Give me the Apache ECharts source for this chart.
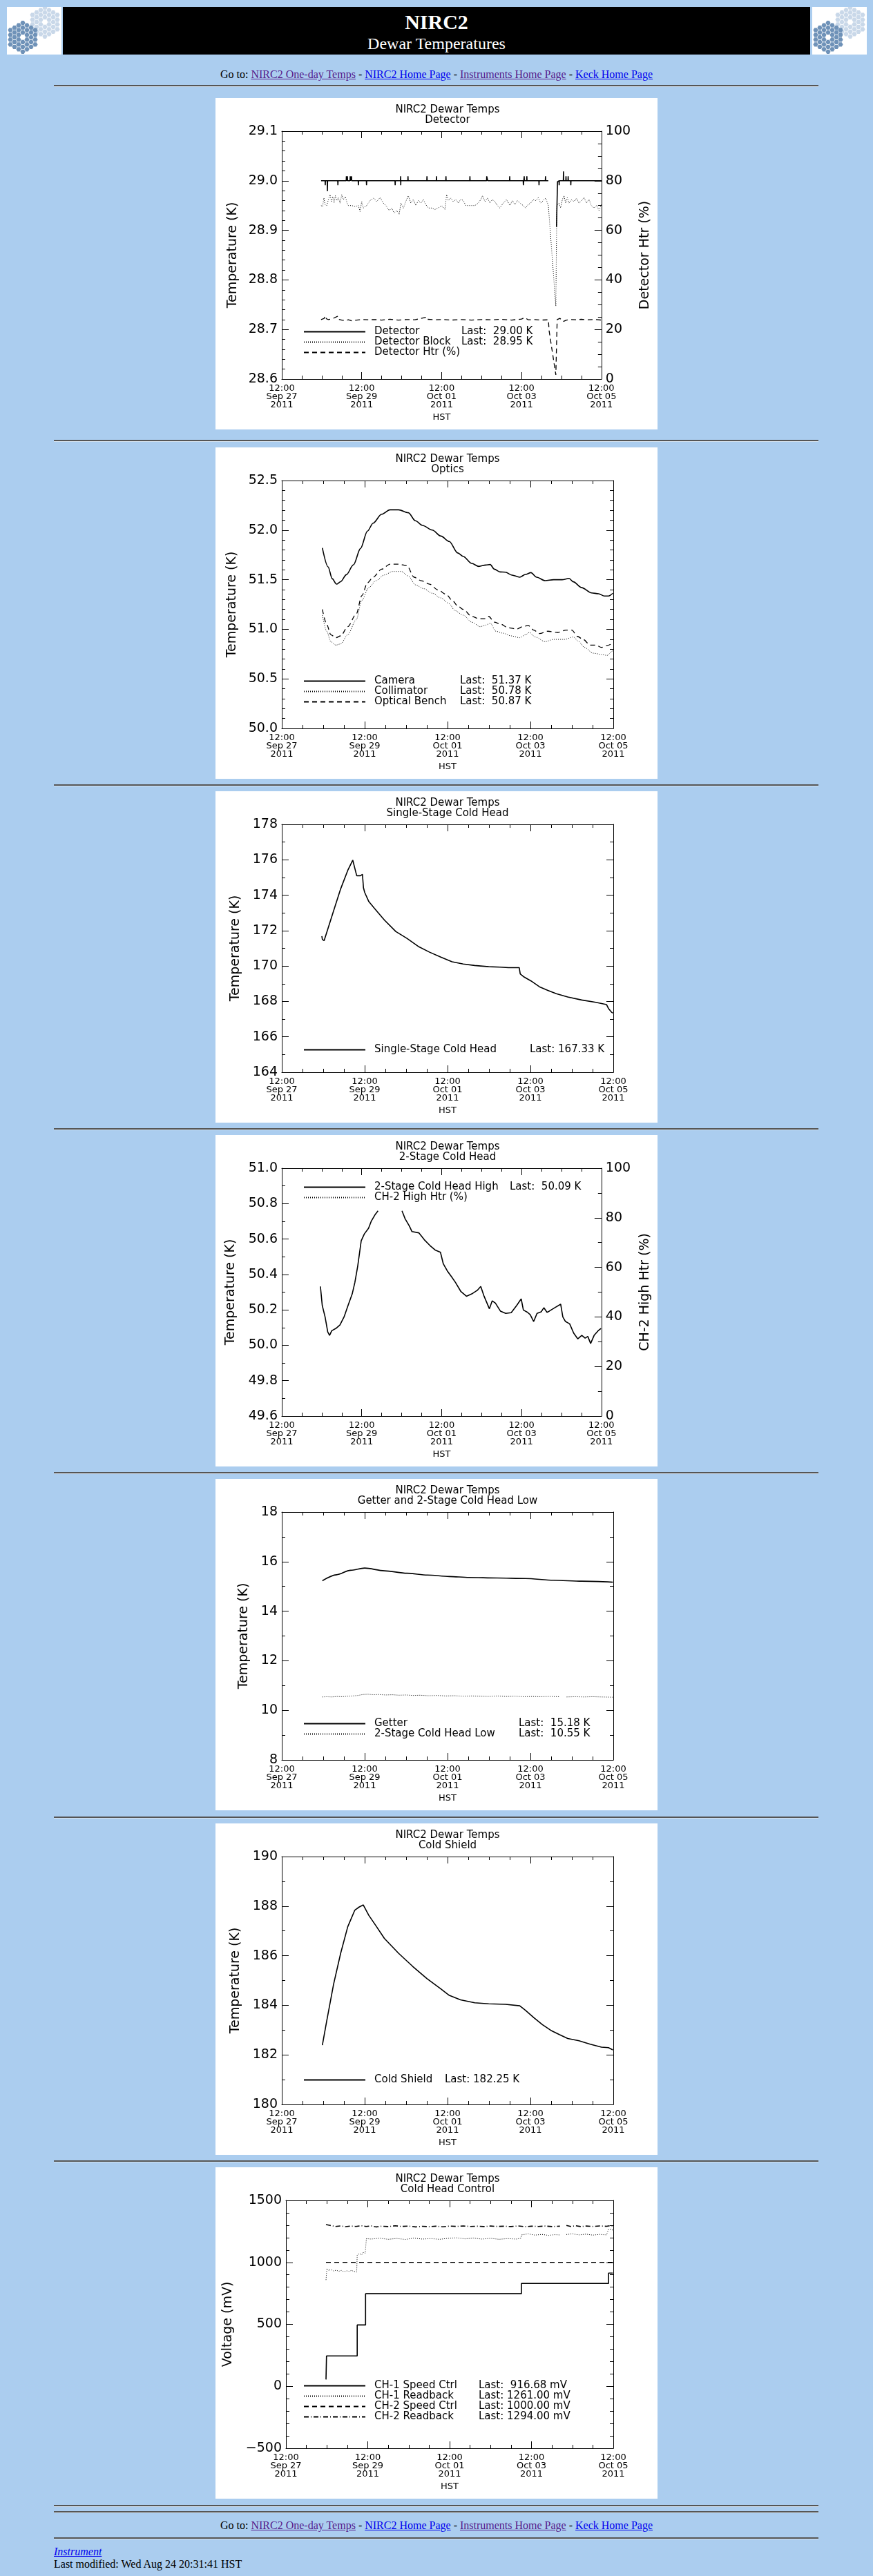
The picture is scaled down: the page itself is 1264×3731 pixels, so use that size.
<!DOCTYPE html>
<html>
<head>
<meta charset="utf-8">
<title>NIRC2 Dewar Temperatures</title>
<script src="https://cdn.jsdelivr.net/npm/echarts@6/dist/echarts.min.js"></script>
<style>
  body { margin: 0; background: #abcdef; font-family: "Liberation Serif", "Times New Roman", serif; font-size: 16px; color: #000; }
  #page { position: relative; width: 1264px; height: 3731px; overflow: hidden; }
  .logo { position: absolute; top: 10px; width: 79px; height: 69px; background: #fff; }
  .bar { position: absolute; left: 91px; top: 10px; width: 1082px; height: 69px; background: #000; color: #fff; text-align: center; }
  .bar .t1 { position: absolute; left: 0; width: 100%; top: 5px; font-size: 30px; font-weight: bold; line-height: 34px; }
  .bar .t2 { position: absolute; left: 0; width: 100%; top: 39px; font-size: 24px; line-height: 28px; }
  .rule { position: absolute; left: 78px; width: 1107px; height: 0; border-top: 2px solid #555; border-bottom: 1px solid #d6e4f2; }
  .goto { position: absolute; left: 0; width: 1264px; text-align: center; line-height: 18px; }
  .v { color: #551a8b; text-decoration: underline; }
  .u { color: #0000ee; text-decoration: underline; }
  .plot { position: absolute; left: 312px; width: 640px; height: 480px; background: #fff; }
  .foot { position: absolute; left: 78px; line-height: 18px; }
</style>
</head>
<body>
<div id="page">
  <div class="logo" id="logoL" style="left:10px"></div>
  <div class="bar"><div class="t1">NIRC2</div><div class="t2">Dewar Temperatures</div></div>
  <div class="logo" id="logoR" style="left:1176px"></div>

  <div class="goto" style="top:99px">Go to: <span class="v">NIRC2 One-day Temps</span> - <span class="u">NIRC2 Home Page</span> - <span class="v">Instruments Home Page</span> - <span class="u">Keck Home Page</span></div>
  <div class="rule" style="top:123px"></div>

  <div class="plot" id="c0" style="top:142px"></div>
  <div class="rule" style="top:637px"></div>
  <div class="plot" id="c1" style="top:648px"></div>
  <div class="rule" style="top:1136px"></div>
  <div class="plot" id="c2" style="top:1146px"></div>
  <div class="rule" style="top:1634px"></div>
  <div class="plot" id="c3" style="top:1644px"></div>
  <div class="rule" style="top:2132px"></div>
  <div class="plot" id="c4" style="top:2142px"></div>
  <div class="rule" style="top:2631px"></div>
  <div class="plot" id="c5" style="top:2641px"></div>
  <div class="rule" style="top:3129px"></div>
  <div class="plot" id="c6" style="top:3139px"></div>
  <div class="rule" style="top:3628px"></div>
  <div class="rule" style="top:3637px"></div>

  <div class="goto" style="top:3649px">Go to: <span class="v">NIRC2 One-day Temps</span> - <span class="u">NIRC2 Home Page</span> - <span class="v">Instruments Home Page</span> - <span class="u">Keck Home Page</span></div>
  <div class="rule" style="top:3675px"></div>
  <div class="foot" style="top:3687px"><i class="u">Instrument</i></div>
  <div class="foot" style="top:3705px">Last modified: Wed Aug 24 20:31:41 HST</div>
</div>

<script>
// x values are hours since 12:00 Sep 27 2011 HST (axis runs to 12:00 Oct 05)
const xTickLabels = [
  '12:00\nSep 27\n2011',
  '12:00\nSep 29\n2011',
  '12:00\nOct 01\n2011',
  '12:00\nOct 03\n2011',
  '12:00\nOct 05\n2011'
];

const subtitles = [
  'Detector',
  'Optics',
  'Single-Stage Cold Head',
  '2-Stage Cold Head',
  'Getter and 2-Stage Cold Head Low',
  'Cold Shield',
  'Cold Head Control'
];

// --- Detector ---
const detectorTemp = [
  [23.6,29.0],[26.0,29.0],[26.1,28.991],[26.2,29.0],[27.3,29.0],[27.4,28.979],[27.5,29.0],
  [33.6,29.0],[33.7,28.991],[33.8,29.0],[38.7,29.0],[38.8,29.009],[38.9,29.0],[39.3,29.0],
  [39.4,29.009],[39.5,29.0],[41.0,29.0],[41.1,29.009],[41.2,29.0],[41.8,29.0],[41.9,29.009],
  [42.0,29.0],[45.9,29.0],[46.0,28.991],[46.1,29.0],[50.8,29.0],[50.9,28.991],[51.0,29.0],
  [68.0,29.0],[68.1,28.991],[68.2,29.0],[71.3,29.0],[71.4,29.009],[71.45,28.991],[71.5,29.0],
  [75.7,29.0],[75.8,29.009],[75.9,29.0],[87.1,29.0],[87.2,29.009],[87.3,29.0],[92.8,29.0],
  [92.9,29.009],[93.0,29.0],[98.5,29.0],[98.6,29.009],[98.7,29.0],[112.9,29.0],[113.0,29.009],
  [113.1,29.0],[123.0,29.0],[123.1,29.009],[123.6,29.009],[123.7,29.0],[136.8,29.0],
  [136.9,29.009],[137.0,29.0],[145.0,29.0],[145.1,28.991],[145.6,29.009],[145.7,29.0],
  [147.1,29.0],[147.2,29.009],[147.3,29.0],[154.4,29.0],[154.5,28.991],[154.6,29.0],
  [158.3,29.0],[158.4,29.009],[158.5,29.0],[160.1,29.0],[161.0,null],
  [165.0,28.907],[165.6,28.998],[165.9,29.0],[166.5,29.0],[166.6,28.991],[166.7,29.0],
  [169.1,29.0],[169.2,29.019],[169.3,29.0],[170.6,29.0],[170.7,29.009],[170.8,29.0],
  [171.9,29.0],[172.0,29.009],[172.1,29.0],[173.5,29.0],[173.6,28.991],[173.7,29.0],[192.0,29.0]
];
const detectorBlockTemp = [
  [23.6,28.95],[24.5,28.948],[25.3,28.965],[26.0,28.952],[27.0,28.95],[28.0,28.962],[29.0,28.972],
  [29.8,28.958],[30.6,28.968],[31.4,28.955],[32.2,28.97],[33.0,28.96],[34.0,28.966],[35.0,28.955],
  [36.0,28.972],[37.0,28.962],[38.2,28.968],[39.2,28.955],[40.0,28.95],[42.0,28.95],[44.0,28.948],
  [46.0,28.95],[47.0,28.938],[48.0,28.958],[49.0,28.945],[51.0,28.95],[53.0,28.96],[55.0,28.965],
  [57.0,28.958],[59.0,28.966],[61.0,28.955],[63.0,28.948],[64.5,28.94],[66.0,28.945],[67.5,28.935],
  [69.0,28.94],[70.5,28.932],[71.5,28.955],[73.0,28.945],[74.5,28.958],[76.0,28.97],[77.5,28.955],
  [79.0,28.962],[80.5,28.95],[82.0,28.96],[83.5,28.955],[85.0,28.962],[86.5,28.952],[88.0,28.945],
  [90.0,28.945],[92.0,28.942],[94.0,28.945],[96.0,28.95],[98.0,28.942],[99.0,28.972],[100.0,28.96],
  [101.5,28.965],[103.0,28.958],[104.5,28.962],[106.0,28.955],[107.5,28.963],[109.0,28.96],
  [110.5,28.95],[112.0,28.95],[114.0,28.95],[116.0,28.95],[118.0,28.955],[119.5,28.962],
  [120.5,28.97],[122.0,28.958],[123.5,28.965],[125.0,28.955],[126.5,28.962],[128.0,28.958],
  [129.5,28.95],[131.0,28.945],[133.0,28.955],[135.0,28.962],[137.0,28.95],[138.5,28.96],
  [140.0,28.952],[141.5,28.96],[143.0,28.955],[145.0,28.95],[146.5,28.945],[148.0,28.952],
  [149.5,28.955],[151.0,28.962],[152.5,28.96],[154.0,28.966],[155.5,28.955],[157.0,28.96],
  [158.5,28.965],[160.1,28.95],[164.6,28.747],[165.2,28.95],[166.5,28.955],[167.5,28.945],
  [168.5,28.962],[169.5,28.97],[170.5,28.955],[171.5,28.966],[172.5,28.955],[174.0,28.962],
  [175.5,28.958],[177.0,28.965],[178.5,28.955],[180.0,28.96],[181.5,28.966],[183.0,28.955],
  [184.5,28.962],[186.0,28.95],[187.5,28.945],[189.0,28.95],[190.5,28.94],[192.0,28.952]
];
const detectorHtr = [
  [23.6,24.0],[25.5,24.5],[26.1,25.5],[26.8,24.3],[28,24.0],[30,24.2],[33.5,25.3],[34,24.1],
  [36,23.8],[38,23.6],[40,23.9],[42,23.5],[45,23.8],[48,24.0],[52,23.9],[56,24.0],[60,23.8],
  [65,24.1],[70,23.8],[75,24.0],[80,23.9],[87,25.0],[87.5,24.1],[92,23.9],[97,24.0],[102,23.8],
  [108,24.0],[114,23.8],[120,24.0],[126,23.9],[132,24.1],[138,23.8],[144,24.2],[146,24.8],
  [148,23.9],[152,24.0],[156,23.8],[160.1,23.9],[160.6,19.3],[164.6,1.7],[165.3,1.7],[165.4,24.0],
  [167,24.5],[169,23.2],[171,23.8],[174,24.0],[177,23.9],[180,24.1],[184,23.9],[188,24.0],[192,23.8]
];

// --- Optics ---
const cameraTemp = [
  [23.5,51.82],[26.8,51.63],[29.2,51.51],[31.7,51.455],[34.1,51.48],[37.4,51.55],[41.5,51.65],
  [45.6,51.815],[49.6,51.99],[52.9,52.07],[57.8,52.16],[62.7,52.205],[67.6,52.205],[73.3,52.175],
  [77.4,52.094],[81.5,52.047],[87.2,52.0],[92.1,51.94],[97.0,51.885],[101.9,51.77],[105.1,51.734],
  [110.0,51.664],[114.1,51.634],[118.2,51.648],[120.7,51.653],[123.1,51.606],[126.4,51.578],
  [129.6,51.576],[132.9,51.548],[137.8,51.525],[141.1,51.553],[144.3,51.571],[147.6,51.525],
  [152.5,51.49],[157.4,51.50],[162.3,51.50],[166.4,51.513],[168.8,51.479],[173.7,51.42],
  [179.4,51.367],[183.5,51.358],[186.8,51.335],[189.2,51.335],[191.7,51.363]
];
const collimatorTemp = [
  [23.5,51.142],[26.0,50.98],[28.4,50.875],[31.3,50.84],[34.1,50.852],[38.2,50.945],[43.1,51.096],
  [46.4,51.293],[50.4,51.42],[54.5,51.49],[59.4,51.548],[64.3,51.583],[69.2,51.583],[73.3,51.537],
  [77.4,51.448],[82.3,51.409],[87.2,51.363],[92.1,51.316],[97.0,51.258],[100.2,51.188],
  [105.1,51.142],[110.0,51.072],[114.9,51.026],[118.2,51.042],[120.7,51.061],[124.0,50.98],
  [128.0,50.961],[132.9,50.933],[137.8,50.915],[141.1,50.945],[143.5,50.968],[146.8,50.922],
  [152.5,50.875],[157.4,50.898],[163.9,50.898],[168.8,50.922],[172.1,50.875],[175.3,50.817],
  [180.2,50.759],[185.1,50.747],[188.4,50.736],[190.9,50.77],[191.7,50.794]
];
const benchTemp = [
  [23.5,51.20],[26.0,51.05],[28.4,50.945],[31.3,50.915],[34.1,50.933],[38.2,51.026],[43.1,51.154],
  [46.4,51.34],[49.6,51.467],[52.9,51.525],[57.8,51.606],[62.7,51.657],[67.6,51.657],[72.5,51.641],
  [76.6,51.525],[80.7,51.49],[85.6,51.455],[90.4,51.397],[95.3,51.351],[98.6,51.293],[101.9,51.235],
  [105.1,51.20],[110.0,51.130],[114.1,51.107],[117.4,51.107],[119.8,51.130],[123.1,51.072],
  [126.4,51.054],[131.3,51.014],[136.2,51.003],[139.4,51.026],[142.7,51.038],[146.0,50.991],
  [149.2,50.956],[154.1,50.980],[159.8,50.968],[164.7,50.991],[168.0,50.991],[171.2,50.928],
  [174.5,50.898],[178.6,50.84],[181.9,50.84],[185.1,50.817],[188.4,50.836],[191.7,50.86]
];

// --- Single-Stage Cold Head ---
const singleStageTemp = [
  [23.2,171.69],[23.5,171.50],[24.5,171.43],[26.0,171.89],[30.0,173.12],[34.1,174.36],[38.2,175.40],
  [41.1,175.98],[41.8,176.01],[42.6,175.40],[43.4,175.10],[45.6,175.10],[46.7,175.18],[47.3,174.42],
  [48.0,174.16],[50.4,173.64],[53.7,173.25],[59.4,172.60],[66.0,171.95],[72.5,171.56],[79.0,171.11],
  [85.6,170.78],[92.1,170.50],[98.6,170.24],[105.1,170.11],[111.7,170.03],[119.8,169.96],
  [126.4,169.94],[131.3,169.91],[137.5,169.91],[138.1,169.55],[140.3,169.38],[144.3,169.16],
  [149.2,168.83],[154.1,168.62],[159.0,168.44],[165.6,168.25],[173.7,168.08],[181.9,167.95],
  [188.1,167.82],[189.2,167.60],[190.9,167.40],[191.7,167.34]
];

// --- 2-Stage Cold Head ---
const twoStageHighTemp = [
  [23.2,50.332],[24.3,50.225],[26.0,50.16],[27.6,50.075],[28.7,50.056],[30.0,50.082],[32.5,50.095],
  [34.9,50.114],[37.4,50.16],[39.8,50.225],[42.3,50.29],[43.9,50.355],[45.6,50.447],[47.7,50.59],
  [49.6,50.629],[52.1,50.661],[53.7,50.70],[56.2,50.74],[57.8,50.759],[65.0,null],
  [72.2,50.759],[74.1,50.714],[76.6,50.674],[78.2,50.642],[82.3,50.635],[85.6,50.596],[88.9,50.564],
  [92.1,50.538],[95.3,50.525],[97.0,50.46],[99.4,50.42],[101.9,50.388],[104.3,50.355],[107.6,50.303],
  [110.9,50.277],[114.1,50.29],[117.4,50.31],[119.5,50.332],[121.5,50.277],[124.7,50.206],
  [126.4,50.251],[128.3,50.238],[131.3,50.193],[134.5,50.18],[137.8,50.184],[141.1,50.225],
  [143.8,50.262],[145.1,50.199],[147.6,50.186],[149.2,50.173],[151.3,50.134],[153.3,50.18],
  [155.8,50.189],[157.4,50.212],[159.3,50.186],[160.7,50.193],[163.9,50.212],[167.5,50.232],
  [168.8,50.16],[170.4,50.134],[172.9,50.121],[175.3,50.069],[177.8,50.036],[180.2,50.056],
  [182.2,50.04],[183.8,50.05],[185.5,50.01],[187.6,50.056],[190.0,50.082],[191.7,50.095]
];
const ch2HighHtr = [];

// --- Getter and 2-Stage Cold Head Low ---
const getterTemp = [
  [23.5,15.23],[31.7,15.47],[39.8,15.65],[48.0,15.74],[59.4,15.63],[72.5,15.53],[84.4,15.46],
  [97.0,15.40],[108.4,15.36],[124.7,15.34],[141.1,15.32],[157.4,15.25],[173.7,15.21],[191.7,15.17]
];
const twoStageLowTemp = [
  [23.5,10.54],[26,10.55],[29,10.54],[32,10.56],[35,10.55],[38,10.57],[41,10.58],[44,10.60],
  [47,10.64],[50,10.65],[53,10.63],[56,10.64],[60,10.62],[64,10.63],[68,10.61],[72,10.62],
  [76,10.60],[80,10.61],[85,10.59],[90,10.60],[95,10.58],[100,10.59],[105,10.57],[110,10.58],
  [115,10.57],[120,10.56],[125,10.58],[130,10.56],[135,10.57],[140,10.55],[145,10.56],[150,10.55],
  [155,10.56],[160.5,10.55],[162,null],[165,10.54],[170,10.55],[175,10.54],[180,10.55],[185,10.54],
  [191.7,10.53]
];

// --- Cold Shield ---
const coldShieldTemp = [
  [23.5,182.39],[26.0,183.36],[30.0,184.85],[34.1,186.10],[38.2,187.17],[42.3,187.84],[44.7,187.96],
  [47.2,188.05],[50.4,187.63],[54.5,187.21],[59.4,186.70],[67.6,186.10],[75.8,185.57],[84.0,185.08],
  [92.1,184.66],[97.0,184.40],[103.5,184.22],[111.7,184.10],[119.8,184.06],[129.6,184.04],
  [137.8,183.98],[141.1,183.80],[146.0,183.50],[150.9,183.22],[155.8,182.99],[160.7,182.82],
  [165.6,182.66],[172.1,182.57],[178.6,182.43],[185.1,182.31],[189.2,182.29],[191.7,182.20]
];

// --- Cold Head Control (mV) ---
const ch1SpeedCtrl = [[23.5,55],[23.8,245],[41.8,495],[46.7,747],[138.1,830],[189.2,914],[191.7,917]];
const ch1Readback = [
  [23.5,858],[24.0,948],[25,935],[26.5,942],[28,930],[29.5,938],[31,928],[32.5,935],[34,925],
  [35.5,932],[37,928],[38.5,936],[40,925],[41.5,922],[41.8,1060],[43,1070],[44.5,1062],[45.5,1082],
  [46.5,1075],[47.2,1192],[50,1188],[55,1195],[60,1186],[65,1193],[70,1185],[75,1196],[80,1188],
  [85,1192],[90,1186],[95,1194],[100,1198],[105,1190],[110,1196],[115,1188],[120,1194],[125,1186],
  [130,1192],[135,1188],[137.8,1195],[138.2,1222],[142,1230],[146,1220],[150,1226],[154,1218],
  [158,1224],[160.7,1221],[162,null],[164.5,1225],[168,1230],[172,1222],[176,1228],[180,1220],
  [184,1226],[188,1222],[189.3,1268],[191.7,1261]
];
const ch2SpeedCtrl = [[23.5,1000],[191.7,1000]];
const ch2Readback = [
  [23.5,1305],[26,1298],[29,1290],[32,1294],[35,1288],[38,1293],[41,1290],[44,1296],[47,1290],
  [50,1294],[53,1286],[56,1292],[60,1289],[64,1295],[68,1290],[72,1293],[76,1286],[80,1291],
  [84,1288],[88,1292],[92,1287],[96,1293],[100,1290],[104,1294],[108,1290],[112,1292],[116,1289],
  [120,1293],[124,1290],[128,1292],[132,1289],[136,1294],[140,1288],[144,1292],[148,1290],
  [152,1293],[156,1289],[160.7,1292],[162,null],[164.5,1298],[167,1290],[170,1295],[173,1289],
  [176,1293],[180,1290],[184,1294],[188,1291],[190,1296],[191.7,1294]
];

const FONT = 'DejaVu Sans';
const LINE = {
  solid:   { type: 'solid', width: 1.6 },
  dotted:  { type: [1, 2], width: 1 },
  dashed:  { type: [7, 5], width: 1.3 },
  dashdot: { type: [7, 3, 1, 3], width: 1.6 }
};

function fmt(dec) {
  return v => {
    const s = v.toFixed(dec);
    return s.charAt(0) === '-' ? '\u2212' + s.slice(1) : s;
  };
}

function xAxes() {
  const base = {
    type: 'value', min: 0, max: 192, interval: 48,
    splitLine: { show: false },
    axisLine: { show: true, onZero: false, lineStyle: { color: '#000', width: 1 } },
    axisTick: { show: true, inside: true, length: 10, lineStyle: { color: '#000' } },
    minorTick: { show: true, splitNumber: 4, length: 5, lineStyle: { color: '#000' } }
  };
  return [
    Object.assign({}, base, {
      position: 'bottom',
      axisLabel: {
        formatter: v => xTickLabels[Math.round(v / 48)],
        fontFamily: FONT, fontSize: 13, lineHeight: 12, color: '#000', margin: 8
      },
      name: 'HST', nameLocation: 'middle', nameGap: 47,
      nameTextStyle: { fontFamily: FONT, fontSize: 13, color: '#000' }
    }),
    Object.assign({}, base, { position: 'top', axisLabel: { show: false } })
  ];
}

function yAxis(s, position, name, nameGap) {
  return {
    type: 'value', position: position, min: s.min, max: s.max, interval: s.interval,
    splitLine: { show: false },
    axisLine: { show: true, onZero: false, lineStyle: { color: '#000', width: 1 } },
    axisTick: { show: true, inside: true, length: 10, lineStyle: { color: '#000' } },
    minorTick: { show: true, splitNumber: s.minor, length: 5, lineStyle: { color: '#000' } },
    axisLabel: name ? { formatter: fmt(s.dec), fontFamily: FONT, fontSize: 19, color: '#000', margin: 6 }
                    : { show: false },
    name: name || '', nameLocation: 'middle', nameGap: nameGap || 0, nameRotate: 90,
    nameTextStyle: { fontFamily: FONT, fontSize: 19, lineHeight: 20, color: '#000' }
  };
}

const chartSpecs = [
  { y: { min: 28.6, max: 29.1, interval: 0.1, minor: 5, dec: 1 }, yName: 'Temperature (K)', yGap: 61,
    y2: { min: 0, max: 100, interval: 20, minor: 4, dec: 0 }, y2Name: 'Detector Htr (%)', y2Gap: 47,
    legendTop: 331, nameW: 126,
    series: [
      { name: 'Detector', last: 'Last:  29.00 K', data: detectorTemp, style: 'solid' },
      { name: 'Detector Block', last: 'Last:  28.95 K', data: detectorBlockTemp, style: 'dotted' },
      { name: 'Detector Htr (%)', last: '', data: detectorHtr, style: 'dashed', axis: 1 }
    ] },
  { y: { min: 50.0, max: 52.5, interval: 0.5, minor: 5, dec: 1 }, yName: 'Temperature (K)', yGap: 62,
    legendTop: 331, nameW: 124,
    series: [
      { name: 'Camera', last: 'Last:  51.37 K', data: cameraTemp, style: 'solid', smooth: true },
      { name: 'Collimator', last: 'Last:  50.78 K', data: collimatorTemp, style: 'dotted', smooth: true },
      { name: 'Optical Bench', last: 'Last:  50.87 K', data: benchTemp, style: 'dashed', smooth: true }
    ] },
  { y: { min: 164, max: 178, interval: 2, minor: 2, dec: 0 }, yName: 'Temperature (K)', yGap: 57,
    legendTop: 367, nameW: 225,
    series: [
      { name: 'Single-Stage Cold Head', last: 'Last: 167.33 K', data: singleStageTemp, style: 'solid' }
    ] },
  { y: { min: 49.6, max: 51.0, interval: 0.2, minor: 2, dec: 1 }, yName: 'Temperature (K)', yGap: 64,
    y2: { min: 0, max: 100, interval: 20, minor: 2, dec: 0 }, y2Name: 'CH-2 High Htr (%)', y2Gap: 49,
    legendTop: 68, nameW: 196,
    series: [
      { name: '2-Stage Cold Head High', last: 'Last:  50.09 K', data: twoStageHighTemp, style: 'solid' },
      { name: 'CH-2 High Htr (%)', last: '', data: ch2HighHtr, style: 'dotted', axis: 1 }
    ] },
  { y: { min: 8, max: 18, interval: 2, minor: 2, dec: 0 }, yName: 'Temperature (K)', yGap: 45,
    legendTop: 347, nameW: 209,
    series: [
      { name: 'Getter', last: 'Last:  15.18 K', data: getterTemp, style: 'solid', smooth: true },
      { name: '2-Stage Cold Head Low', last: 'Last:  10.55 K', data: twoStageLowTemp, style: 'dotted' }
    ] },
  { y: { min: 180, max: 190, interval: 2, minor: 2, dec: 0 }, yName: 'Temperature (K)', yGap: 57,
    legendTop: 364, nameW: 102,
    series: [
      { name: 'Cold Shield', last: 'Last: 182.25 K', data: coldShieldTemp, style: 'solid' }
    ] },
  { y: { min: -500, max: 1500, interval: 500, minor: 5, dec: 0 }, yName: 'Voltage (mV)', yGap: 74,
    legendTop: 309, nameW: 151,
    series: [
      { name: 'CH-1 Speed Ctrl', last: 'Last:  916.68 mV', data: ch1SpeedCtrl, style: 'solid', step: 'end' },
      { name: 'CH-1 Readback', last: 'Last: 1261.00 mV', data: ch1Readback, style: 'dotted' },
      { name: 'CH-2 Speed Ctrl', last: 'Last: 1000.00 mV', data: ch2SpeedCtrl, style: 'dashed' },
      { name: 'CH-2 Readback', last: 'Last: 1294.00 mV', data: ch2Readback, style: 'dashdot' }
    ] }
];

chartSpecs.forEach((spec, i) => {
  const chart = echarts.init(document.getElementById('c' + i));
  const lastByName = {};
  spec.series.forEach(s => { lastByName[s.name] = s.last; });

  const yAxes = [yAxis(spec.y, 'left', spec.yName, spec.yGap)];
  yAxes.push(spec.y2 ? yAxis(spec.y2, 'right', spec.y2Name, spec.y2Gap) : yAxis(spec.y, 'right'));

  chart.setOption({
    animation: false,
    backgroundColor: '#fff',
    title: {
      text: 'NIRC2 Dewar Temps\n' + subtitles[i],
      left: 336, top: 10, padding: 0, textAlign: 'center',
      textStyle: { fontFamily: FONT, fontSize: 15, fontWeight: 'normal', lineHeight: 15, color: '#000' }
    },
    grid: { left: 96, top: 48, width: 480, height: 359 },
    xAxis: xAxes(),
    yAxis: yAxes,
    legend: {
      orient: 'vertical', left: 127, top: spec.legendTop, padding: 0,
      itemWidth: 89, itemHeight: 18, itemGap: 0, selectedMode: false,
      itemStyle: { opacity: 0 },
      data: spec.series.map(s => s.name),
      formatter: name => lastByName[name] ? '{n|' + name + '}{l|' + lastByName[name] + '}' : '{n|' + name + '}',
      textStyle: {
        padding: [0, 0, 0, 8], fontFamily: FONT, fontSize: 15, color: '#000',
        rich: {
          n: { width: spec.nameW, fontFamily: FONT, fontSize: 15, lineHeight: 18, color: '#000' },
          l: { fontFamily: FONT, fontSize: 15, lineHeight: 18, color: '#000' }
        }
      }
    },
    series: spec.series.map(s => ({
      name: s.name, type: 'line', data: s.data,
      yAxisIndex: s.axis || 0, xAxisIndex: 0,
      symbol: 'none', showSymbol: false, connectNulls: false, silent: true,
      step: s.step || false,
      smooth: s.smooth ? 0.3 : false, smoothMonotone: 'x',
      itemStyle: { color: '#000' },
      lineStyle: Object.assign({ color: '#000' }, LINE[s.style])
    }))
  });
});

// Keck primary-mirror logo: 36 hex segments, drawn twice in two shades
function drawLogo(el) {
  const ns = 'http://www.w3.org/2000/svg';
  const svg = document.createElementNS(ns, 'svg');
  svg.setAttribute('width', 79);
  svg.setAttribute('height', 69);
  const clusters = [
    { cx: 55, cy: 22, fill: '#c9d8e9' },
    { cx: 23, cy: 44, fill: '#6f92b8' }
  ];
  const s = 4;
  clusters.forEach(c => {
    for (let q = -3; q <= 3; q++) {
      for (let r = -3; r <= 3; r++) {
        const d = Math.max(Math.abs(q), Math.abs(r), Math.abs(q + r));
        if (d < 1 || d > 3) continue;
        const x = c.cx + s * 1.5 * q;
        const y = c.cy + s * Math.sqrt(3) * (r + q / 2);
        const pts = [];
        for (let k = 0; k < 6; k++) {
          const a = Math.PI / 3 * k;
          pts.push((x + s * 0.9 * Math.cos(a)).toFixed(2) + ',' + (y + s * 0.9 * Math.sin(a)).toFixed(2));
        }
        const p = document.createElementNS(ns, 'polygon');
        p.setAttribute('points', pts.join(' '));
        p.setAttribute('fill', c.fill);
        svg.appendChild(p);
      }
    }
  });
  el.appendChild(svg);
}
drawLogo(document.getElementById('logoL'));
drawLogo(document.getElementById('logoR'));
</script>
</body>
</html>
